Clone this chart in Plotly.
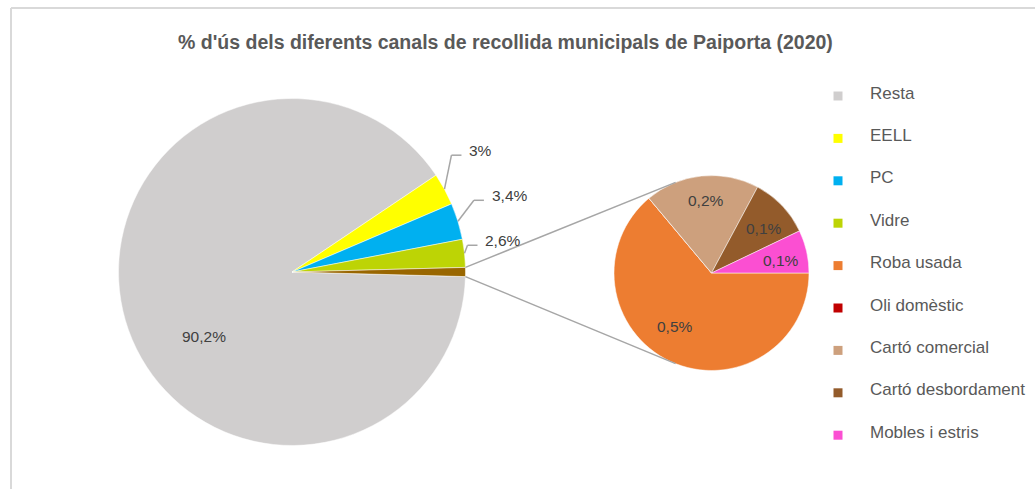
import math
import plotly.graph_objects as go

# ---------------- data ----------------
title_text = "% d'ús dels diferents canals de recollida municipals de Paiporta (2020)"
main_labels = ["Resta", "EELL", "PC", "Vidre"]
main_values = [90.2, 3.0, 3.4, 2.6]
sub_labels = ["Roba usada", "Oli domèstic", "Cartó comercial", "Cartó desbordament", "Mobles i estris"]
sub_values = [0.54, 0.0, 0.16, 0.085, 0.06]
other_label = "Altres"

# ---------------- style ----------------
main_colors = ["#D0CECE", "#FFFF00", "#00B0F0", "#BDD405"]
other_color = "#996600"
sub_colors = ["#ED7D31", "#C00000", "#CDA07D", "#935B2B", "#FB4FD2"]
FONT = "Liberation Sans, Arial, sans-serif"
TXT = "#404040"
LEG_TXT = "#595959"
LINE_C = "#A6A6A6"

W, H = 1035, 489
MAIN_C, MAIN_R = (292.0, 272.0), 173.5
SUB_C, SUB_R = (711.5, 273.0), 97.5
SUB_JOIN_ANGLE = 111.6  # where connector lines meet the secondary pie


def px(x):
    return x / W


def py(y):
    return 1 - y / H


def fmt(v):
    s = f"{v:.1f}".replace(".", ",")
    if s.endswith(",0"):
        s = s[:-2]
    return s + "%"


other_value = sum(sub_values)
m_vals = main_values + [other_value]
m_total = sum(m_vals)
half_other = other_value / m_total * 360 / 2


def mids(values, start):
    tot = sum(values)
    out, cum = [], 0.0
    for v in values:
        a0 = start - cum / tot * 360
        cum += v
        a1 = start - cum / tot * 360
        out.append((a0 + a1) / 2)
    return out


main_mid = mids(m_vals, -half_other)
sub_mid = mids(sub_values, 0.0)


def polar(c, r, ang):
    return (c[0] + r * math.cos(math.radians(ang)), c[1] - r * math.sin(math.radians(ang)))


fig = go.Figure()
fig.add_trace(go.Pie(
    labels=main_labels + [other_label], values=m_vals, sort=False,
    direction="clockwise", rotation=90 + half_other,
    marker=dict(colors=main_colors + [other_color], line=dict(color="white", width=0.5)),
    textinfo="none", hoverinfo="label+value", showlegend=False,
    domain=dict(x=[px(MAIN_C[0] - MAIN_R), px(MAIN_C[0] + MAIN_R)],
                y=[py(MAIN_C[1] + MAIN_R), py(MAIN_C[1] - MAIN_R)]),
))
fig.add_trace(go.Pie(
    labels=sub_labels, values=sub_values, sort=False,
    direction="clockwise", rotation=90,
    marker=dict(colors=sub_colors, line=dict(color="white", width=0.5)),
    textinfo="none", hoverinfo="label+value", showlegend=False,
    domain=dict(x=[px(SUB_C[0] - SUB_R), px(SUB_C[0] + SUB_R)],
                y=[py(SUB_C[1] + SUB_R), py(SUB_C[1] - SUB_R)]),
))

annotations = []
shapes = []

# title
annotations.append(dict(x=px(505), y=py(42), xref="paper", yref="paper", text="<b>" + title_text + "</b>",
                        showarrow=False, xanchor="center", yanchor="middle",
                        font=dict(family=FONT, size=19.5, color=LEG_TXT)))

# main pie labels
# Resta inside
p = polar(MAIN_C, MAIN_R * 0.63, main_mid[0] + 20)
annotations.append(dict(x=px(p[0]), y=py(p[1]), xref="paper", yref="paper", text=fmt(main_values[0]),
                        showarrow=False, xanchor="center", yanchor="middle",
                        font=dict(family=FONT, size=15.5, color=TXT)))
elbow_offsets = [(7, -34), (16, -21), (3, -8)]
for i, (dx, dy) in zip([1, 2, 3], elbow_offsets):
    e = polar(MAIN_C, MAIN_R, main_mid[i])
    b = (e[0] + dx, e[1] + dy)
    h = (b[0] + 10, b[1])
    for a_, b_ in [(e, b), (b, h)]:
        shapes.append(dict(type="line", xref="paper", yref="paper",
                           x0=px(a_[0]), y0=py(a_[1]), x1=px(b_[0]), y1=py(b_[1]),
                           line=dict(color=LINE_C, width=1.5)))
    annotations.append(dict(x=px(h[0] + 6), y=py(h[1] - 5), xref="paper", yref="paper",
                            text=fmt(main_values[i]), showarrow=False, xanchor="left", yanchor="middle",
                            font=dict(family=FONT, size=15.5, color=TXT)))

# secondary pie labels (radius fraction, angle offset); None = no label
sub_label_pos = [(0.66, -9), None, (0.75, -1.4), (0.70, -3.5), (0.72, -2.7)]
for i, pos in enumerate(sub_label_pos):
    if pos is None:
        continue
    p = polar(SUB_C, SUB_R * pos[0], sub_mid[i] + pos[1])
    annotations.append(dict(x=px(p[0]), y=py(p[1]), xref="paper", yref="paper", text=fmt(sub_values[i]),
                            showarrow=False, xanchor="center", yanchor="middle",
                            font=dict(family=FONT, size=15.5, color=TXT)))

# connector lines between pies
for sgn in (1, -1):
    a = polar(MAIN_C, MAIN_R, sgn * half_other)
    b = polar(SUB_C, SUB_R, sgn * SUB_JOIN_ANGLE)
    shapes.append(dict(type="line", xref="paper", yref="paper",
                       x0=px(a[0]), y0=py(a[1]), x1=px(b[0]), y1=py(b[1]),
                       line=dict(color=LINE_C, width=1.5)))

# legend
leg_names = main_labels + sub_labels
leg_colors = main_colors + sub_colors
LEG_X, LEG_Y0, LEG_DY, SQ = 838, 96, 42.4, 9
for k, (nm, col) in enumerate(zip(leg_names, leg_colors)):
    yc = LEG_Y0 + k * LEG_DY
    shapes.append(dict(type="rect", xref="paper", yref="paper",
                       x0=px(LEG_X - SQ / 2), x1=px(LEG_X + SQ / 2), y0=py(yc + SQ / 2), y1=py(yc - SQ / 2),
                       fillcolor=col, line=dict(width=0)))
    annotations.append(dict(x=px(868), y=py(yc - 3), xref="paper", yref="paper", text=nm,
                            showarrow=False, xanchor="left", yanchor="middle",
                            font=dict(family=FONT, size=17, color=LEG_TXT)))

# chart-area border (top and left visible)
shapes.append(dict(type="line", xref="paper", yref="paper", x0=px(11), y0=py(8), x1=px(W + 5), y1=py(8),
                   line=dict(color="#D9D9D9", width=2)))
shapes.append(dict(type="line", xref="paper", yref="paper", x0=px(11), y0=py(8), x1=px(11), y1=py(H + 5),
                   line=dict(color="#D9D9D9", width=2)))

fig.update_layout(
    width=W, height=H, margin=dict(l=0, r=0, t=0, b=0),
    paper_bgcolor="white", plot_bgcolor="white",
    annotations=annotations, shapes=shapes, showlegend=False,
)

fig.write_html("out.html", post_script="document.body.style.margin='0';",
               config={"displayModeBar": False})
